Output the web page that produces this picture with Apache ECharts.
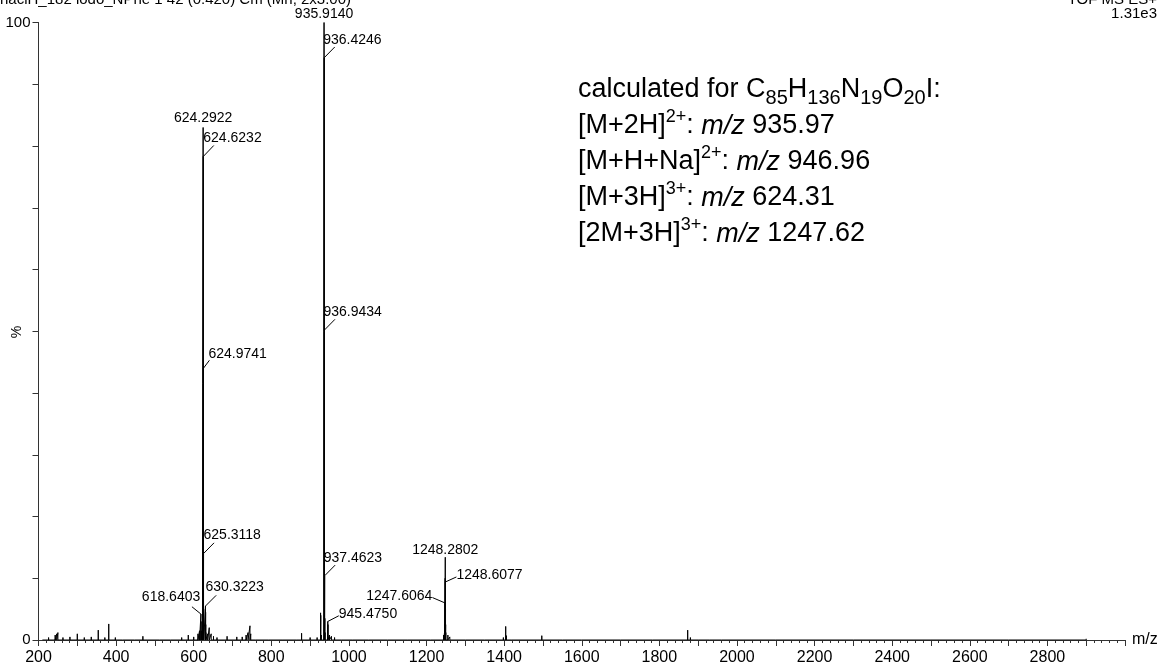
<!DOCTYPE html>
<html><head><meta charset="utf-8">
<script src="https://cdn.jsdelivr.net/npm/echarts@6/dist/echarts.min.js"></script>
<style>html,body{margin:0;padding:0;background:#fff}#c{width:1159px;height:666px}</style>
</head><body><div id="c"></div>
<script>
// ---- data (m/z, relative intensity %) ----
const peakMz = [210, 226, 243, 247, 250, 263, 281, 300, 318, 336, 354, 371, 381, 398, 417, 447, 469, 480, 512, 540, 569, 586, 600, 611, 615,
  618.6403, 619.0, 619.3, 622.5, 624.2922, 624.6232, 624.9741, 625.3118, 625.65, 625.98, 630.3223, 630.66, 631.0, 631.3, 636, 640, 645, 651, 660,
  686, 711, 725, 735, 740, 745, 747, 760, 792, 830, 864, 878, 900, 918, 926.9, 927.4, 929,
  935.9140, 936.4246, 936.9434, 937.4623, 937.96, 938.46, 945.4750, 946.0, 950, 955, 963, 980, 1010, 1050, 1100, 1150, 1210,
  1244, 1246.9, 1247.27, 1247.6064, 1247.94, 1248.2802, 1248.6077, 1248.94, 1249.27, 1249.6, 1255, 1260, 1300, 1350,
  1398, 1404, 1406, 1420, 1497, 1550, 1600, 1700, 1782, 1873, 1880, 1900, 1930, 1960, 2100, 2300, 2500, 2700, 2900];
const peakInt = [0.3, 0.4, 0.8, 1.0, 1.2, 0.4, 0.5, 1.0, 0.4, 0.5, 1.6, 0.4, 2.6, 0.4, 0.3, 0.3, 0.6, 0.3, 0.3, 0.3, 0.4, 0.8, 0.5, 1.0, 1.5,
  4.2, 3.0, 1.5, 0.8, 83.0, 78.3, 44.0, 14.0, 5.0, 2.0, 5.5, 4.5, 2.5, 1.2, 1.0, 2.0, 1.0, 0.6, 0.4,
  0.6, 0.5, 0.5, 0.8, 1.2, 2.3, 1.0, 0.3, 0.3, 0.3, 0.3, 1.1, 0.4, 0.4, 4.4, 4.0, 0.8,
  100, 94.3, 50.2, 10.4, 3.5, 1.2, 3.0, 2.5, 0.8, 0.6, 0.4, 0.3, 0.3, 0.3, 0.2, 0.2, 0.3,
  0.8, 1.5, 2.5, 6.0, 10.0, 13.4, 9.4, 5.0, 2.5, 1.2, 0.8, 0.5, 0.3, 0.2,
  0.4, 2.2, 0.7, 0.2, 0.7, 0.2, 0.3, 0.2, 0.2, 1.6, 0.4, 0.3, 0.3, 0.2, 0.2, 0.2, 0.2, 0.2, 0.2];

// labelled peaks
const labelText = ['935.9140', '936.4246', '936.9434', '937.4623', '945.4750', '624.2922', '624.6232', '624.9741',
  '625.3118', '618.6403', '630.3223', '1248.2802', '1248.6077', '1247.6064'];
const labelInt = [100, 94.3, 50.2, 10.4, 3.0, 83.0, 78.3, 44.0, 14.0, 4.2, 5.5, 13.4, 9.4, 6.0];

// axis tick labels
const xLabelValues = [200, 400, 600, 800, 1000, 1200, 1400, 1600, 1800, 2000, 2200, 2400, 2600, 2800];
const yLabelValues = [0, 100];

// ---- presentation: label leader offsets (pixels) ----
const labelLayout = [
  {lead: null, tx: 0, ty: -8.5, align: 'center'},
  {lead: [10.5, -10.7], tx: -1, ty: -18, align: 'left'},
  {lead: [10.5, -10.7], tx: -1, ty: -18, align: 'left'},
  {lead: [10.5, -10.7], tx: -1, ty: -18, align: 'left'},
  {lead: [11, -5.7], tx: 11, ty: -7.5, align: 'left'},
  {lead: null, tx: 0, ty: -9, align: 'center'},
  {lead: [10.5, -11], tx: 0, ty: -18.4, align: 'left'},
  {lead: [6, -8], tx: 5, ty: -14, align: 'left'},
  {lead: [10.5, -10.7], tx: 0, ty: -18, align: 'left'},
  {lead: [-9, -7.3], tx: -0.7, ty: -17.3, align: 'right'},
  {lead: [10.7, -10.7], tx: 0, ty: -18.4, align: 'left'},
  {lead: null, tx: 0, ty: -7.3, align: 'center'},
  {lead: [11, -5], tx: 11, ty: -6.7, align: 'left'},
  {lead: [-12.6, -5.4], tx: -12.6, ty: -6.7, align: 'right'}
];

const FONT = "'Liberation Sans', Arial, Helvetica, sans-serif";

const stickData = [];
peakMz.forEach((m, i) => { stickData.push([m, 0], [m, peakInt[i]], [m, 0]); });
const labelData = labelText.map((t, i) => [parseFloat(t), labelInt[i], i]);

const chart = echarts.init(document.getElementById('c'), null, {renderer: 'canvas'});
chart.setOption({
  animation: false,
  backgroundColor: '#fff',
  grid: {left: 38.5, right: 34, top: 22.5, bottom: 26, containLabel: false, outerBoundsMode: 'none'},
  xAxis: {
    type: 'value', min: 200, max: 3000, interval: 100,
    name: 'm/z', nameLocation: 'end', nameGap: 7,
    nameTextStyle: {fontFamily: FONT, fontSize: 16, color: '#000'},
    axisLine: {show: true, onZero: false, lineStyle: {color: '#333', width: 1}},
    axisTick: {show: true, length: 6, lineStyle: {color: '#333'}},
    minorTick: {show: true, splitNumber: 5, length: 3, lineStyle: {color: '#333'}},
    splitLine: {show: false},
    axisLabel: {
      fontFamily: FONT, fontSize: 16, color: '#000', margin: 10,
      showMaxLabel: false,
      formatter: v => xLabelValues.indexOf(v) >= 0 ? String(v) : ''
    }
  },
  yAxis: {
    type: 'value', min: 0, max: 100, interval: 10,
    axisLine: {show: true, lineStyle: {color: '#333', width: 1}},
    axisTick: {show: true, length: 6, lineStyle: {color: '#333'}},
    splitLine: {show: false},
    axisLabel: {
      fontFamily: FONT, fontSize: 15, color: '#000', margin: 8,
      formatter: v => yLabelValues.indexOf(v) >= 0 ? String(v) : ''
    }
  },
  series: [
    {
      type: 'line', data: stickData, showSymbol: false, symbol: 'none',
      lineStyle: {color: '#000', width: 1}, silent: true, z: 3
    },
    {
      type: 'custom', coordinateSystem: 'cartesian2d', data: labelData, silent: true, clip: false, z: 4,
      encode: {x: 0, y: 1},
      renderItem: function (params, api) {
        const idx = api.value(2);
        const p = api.coord([api.value(0), api.value(1)]);
        const L = labelLayout[idx];
        const children = [];
        if (L.lead) {
          children.push({type: 'line', shape: {x1: p[0], y1: p[1], x2: p[0] + L.lead[0], y2: p[1] + L.lead[1]},
            style: {stroke: '#000', lineWidth: 1}});
        }
        children.push({type: 'text', style: {text: labelText[idx], x: p[0] + L.tx, y: p[1] + L.ty,
          fill: '#000', fontSize: 14, fontFamily: FONT, align: L.align, verticalAlign: 'middle'}});
        return {type: 'group', children: children};
      }
    }
  ],
  graphic: [
    {type: 'text', left: 0, top: -8, style: {text: 'naciH_182 iodo_NPhe 1 42 (0.420) Cm (Mn, 2x3.00)', fill: '#000', fontSize: 15, fontFamily: FONT}},
    {type: 'text', right: 2, top: -8, style: {text: 'TOF MS ES+', fill: '#000', fontSize: 15, fontFamily: FONT, align: 'right'}},
    {type: 'text', right: 2, top: 6, style: {text: '1.31e3', fill: '#000', fontSize: 15, fontFamily: FONT, align: 'right'}},
    {type: 'text', x: 17, y: 332, rotation: Math.PI / 2,
      style: {text: '%', fill: '#000', fontSize: 14, fontFamily: FONT, align: 'center', verticalAlign: 'middle'}},
    {
      type: 'text', left: 578, top: 72,
      style: {
        text: [
          'calculated for C{sub|85}H{sub|136}N{sub|19}O{sub|20}I:',
          '[M+2H]{sup|2+}: {it|m/z} 935.97',
          '[M+H+Na]{sup|2+}: {it|m/z} 946.96',
          '[M+3H]{sup|3+}: {it|m/z} 624.31',
          '[2M+3H]{sup|3+}: {it|m/z} 1247.62'
        ].join('\n'),
        fill: '#000', fontSize: 27, fontFamily: FONT, lineHeight: 36,
        rich: {
          sub: {fontSize: 20, fontFamily: FONT, fill: '#000', verticalAlign: 'bottom', lineHeight: 24},
          sup: {fontSize: 18, fontFamily: FONT, fill: '#000', verticalAlign: 'top', lineHeight: 22},
          it: {fontSize: 27, fontFamily: FONT, fill: '#000', fontStyle: 'italic', lineHeight: 36}
        }
      }
    }
  ]
});
</script>
</body></html>
